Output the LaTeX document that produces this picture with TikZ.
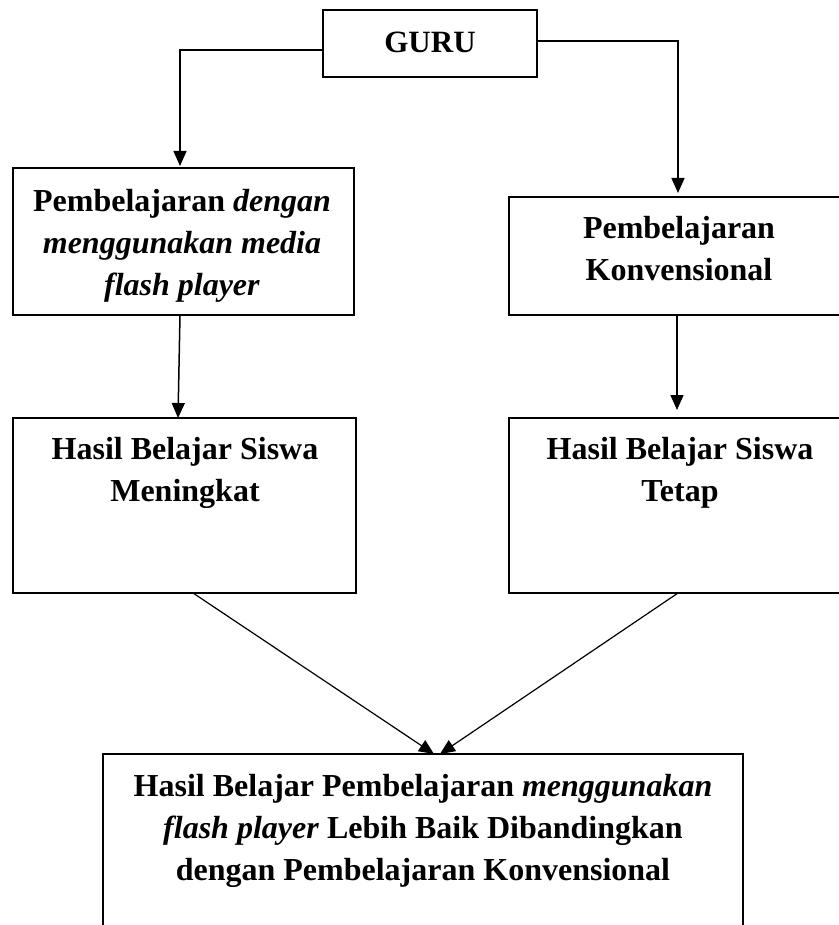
\documentclass[tikz,border=0pt]{standalone}
\usepackage{fontspec}
\setmainfont{Liberation Serif}
\usetikzlibrary{arrows.meta,calc,positioning}

\tikzset{
  kotak/.style={draw, line width=1pt, inner sep=0pt, outer sep=0pt},
  teks/.style={font=\fontsize{16}{21}\selectfont\bfseries, align=center, inner sep=0pt},
  panah/.style={line width=0.75pt, -{Triangle[length=7.5pt,width=6.5pt]}},
}

\begin{document}
\begin{tikzpicture}[x=0.5pt,y=-0.5pt]
\useasboundingbox (0,0) rectangle (839,925);
% kotak
\node[kotak, minimum width=107pt, minimum height=33.5pt] (guru) at (430,43.5) {};
\node[kotak, minimum width=170.5pt, minimum height=73.5pt] (pfp) at (183.5,241.5) {};
\node[kotak, minimum width=170.5pt, minimum height=59pt] (pk) at (679.5,256) {};
\node[kotak, minimum width=171.5pt, minimum height=87.5pt] (hbm) at (184.5,505.5) {};
\node[kotak, minimum width=170.5pt, minimum height=87.5pt] (hbt) at (679.5,505.5) {};
\node[kotak, minimum width=320pt, minimum height=123pt] (hbb) at (423,877) {};
% teks
\node[teks, font=\fontsize{15.5}{21}\selectfont\bfseries] (tguru) at (430,42) {GURU};
\node[teks] (tpfp) at (182,246) {Pembelajaran \textit{dengan}\\ \textit{menggunakan media}\\ \textit{flash player}};
\node[teks] (tpk) at (679,248.5) {Pembelajaran\\ Konvensional};
\node[teks] (thbm) at (185,473) {Hasil Belajar Siswa\\ Meningkat};
\node[teks] (thbt) at (680,473) {Hasil Belajar Siswa\\ Tetap};
\node[teks] (thbb) at (423,831) {Hasil Belajar Pembelajaran \textit{menggunakan}\\ \textit{flash player} Lebih Baik Dibandingkan\\ dengan Pembelajaran Konvensional};
% panah
\draw[panah] ($(guru.west)+(0,6.5)$) -| ($(pfp.north)+(-3.5,-2)$);
\draw[panah] ($(guru.east)+(0,-2.5)$) -| ($(pk.north)+(-1.5,-4)$);
\draw[panah] ($(pfp.south)+(-3.5,0)$) -- ($(hbm.north)+(-6.5,0)$);
\draw[panah] ($(pk.south)+(-2.5,0)$) -- ($(hbt.north)+(-2.5,-8)$);
\draw[panah, line width=0.6pt] ($(hbm.south)+(8.5,0)$) -- ($(hbb.north)+(11,0)$);
\draw[panah, line width=0.6pt] ($(hbt.south)+(-1.5,0)$) -- ($(hbb.north)+(17,0)$);
\end{tikzpicture}
\end{document}
